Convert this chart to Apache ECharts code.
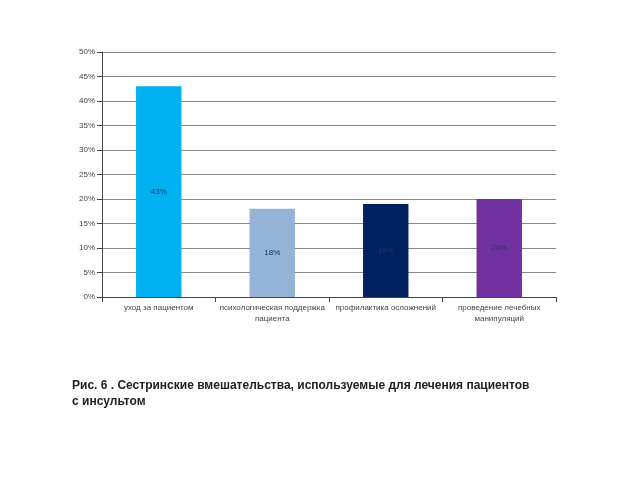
<!DOCTYPE html>
<html><head><meta charset="utf-8">
<script src="https://cdn.jsdelivr.net/npm/echarts@6/dist/echarts.min.js"></script>
<style>html,body{margin:0;padding:0;background:#fff}#c{width:640px;height:480px}</style>
</head><body><div id="c"></div>
<script>
const categories = ['уход за пациентом', 'психологическая поддержка\nпациента', 'профилактика осложнений', 'проведение лечебных\nманипуляций'];
const values = [43, 18, 19, 20];
const colors = ['#00b0f0', '#95b3d7', '#002060', '#7030a0'];
const yTicks = [0, 5, 10, 15, 20, 25, 30, 35, 40, 45, 50];

const chart = echarts.init(document.getElementById('c'));
chart.setOption({
  animation: false,
  backgroundColor: '#fff',
  title: {
    text: 'Рис. 6 . Сестринские вмешательства, используемые для лечения пациентов\nс инсультом',
    left: 72, top: 378, padding: 0,
    textStyle: { fontFamily: 'Liberation Sans, Arial', fontSize: 12, fontWeight: 'bold', color: '#222', lineHeight: 16 }
  },
  grid: { left: 102, right: 84, top: 52, bottom: 183 },
  xAxis: {
    type: 'category', data: categories,
    axisLine: { lineStyle: { color: '#444' } },
    axisTick: { show: true, length: 5, lineStyle: { color: '#444' } },
    axisLabel: { fontSize: 8, color: '#444', fontFamily: 'Liberation Sans, Arial', lineHeight: 11, margin: 5, interval: 0 }
  },
  yAxis: {
    type: 'value', min: 0, max: 50, interval: 5,
    axisLine: { show: true, lineStyle: { color: '#444' } },
    axisTick: { show: true, length: 5, lineStyle: { color: '#444' } },
    axisLabel: { fontSize: 8, color: '#444', fontFamily: 'Liberation Sans, Arial', formatter: v => v + '%', margin: 7 },
    splitLine: { lineStyle: { color: '#888', width: 1 } }
  },
  series: [{
    type: 'bar', barWidth: '40%',
    data: values.map((v, i) => ({ value: v, itemStyle: { color: colors[i] } })),
    label: { show: true, position: 'inside', formatter: p => p.value + '%', fontSize: 8, color: '#1f3864', fontFamily: 'Liberation Sans, Arial' }
  }]
});
</script></body></html>
